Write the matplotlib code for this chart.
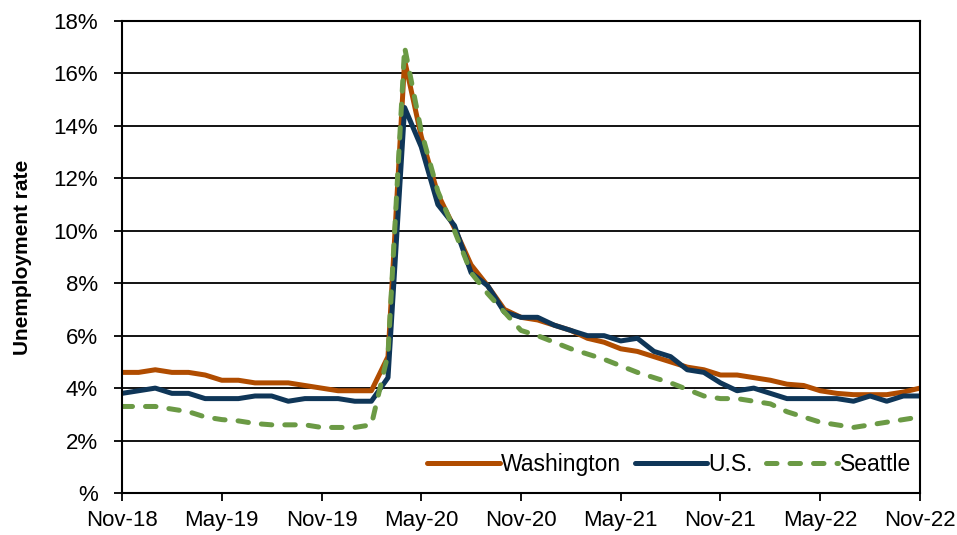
import matplotlib
matplotlib.use("Agg")
import matplotlib.pyplot as plt
from matplotlib.ticker import FuncFormatter

plt.rcParams['font.family'] = ['Liberation Sans', 'DejaVu Sans']

# monthly, Nov-18 .. Nov-22
months = list(range(49))
tick_pos = list(range(0, 49, 6))
tick_labels = ['Nov-18', 'May-19', 'Nov-19', 'May-20', 'Nov-20',
               'May-21', 'Nov-21', 'May-22', 'Nov-22']

washington = [4.6, 4.6, 4.7, 4.6, 4.6, 4.5, 4.3, 4.3, 4.2, 4.2, 4.2, 4.1,
              4.0, 3.9, 3.9, 3.9, 5.2, 16.5, 13.6, 11.4, 10.1, 8.7, 7.9, 7.0,
              6.7, 6.6, 6.4, 6.2, 5.9, 5.75, 5.5, 5.4, 5.2, 5.0, 4.8, 4.7,
              4.5, 4.5, 4.4, 4.3, 4.15, 4.1, 3.9, 3.8, 3.75, 3.75, 3.75, 3.85,
              4.0]
us = [3.8, 3.9, 4.0, 3.8, 3.8, 3.6, 3.6, 3.6, 3.7, 3.7, 3.5, 3.6,
      3.6, 3.6, 3.5, 3.5, 4.4, 14.7, 13.2, 11.0, 10.2, 8.4, 7.9, 6.9,
      6.7, 6.7, 6.4, 6.2, 6.0, 6.0, 5.8, 5.9, 5.4, 5.2, 4.7, 4.6,
      4.2, 3.9, 4.0, 3.8, 3.6, 3.6, 3.6, 3.6, 3.5, 3.7, 3.5, 3.7,
      3.7]
seattle = [3.3, 3.3, 3.3, 3.2, 3.1, 2.9, 2.8, 2.75, 2.65, 2.6, 2.6, 2.6,
           2.5, 2.5, 2.5, 2.6, 5.3, 17.0, 13.8, 11.5, 10.0, 8.4, 7.6, 6.9,
           6.2, 6.0, 5.75, 5.5, 5.3, 5.1, 4.85, 4.6, 4.4, 4.2, 3.95, 3.7,
           3.6, 3.6, 3.5, 3.4, 3.1, 2.9, 2.7, 2.6, 2.5, 2.6, 2.7, 2.8,
           2.9]

fig = plt.figure(figsize=(9.57, 5.35), dpi=100)
ax = fig.add_axes([0.1275, 0.0785, 0.9613 - 0.1275, 0.9607 - 0.0785])

ax.plot(months, washington, color='#B04C00', lw=3.6, label='Washington',
        solid_capstyle='round')
ax.plot(months, us, color='#0F3658', lw=3.6, label='U.S.',
        solid_capstyle='round')
ax.plot(months, seattle, color='#6B9A45', lw=3.6, label='Seattle',
        dashes=(2.1, 2.6), dash_capstyle='round')

ax.set_xlim(0, 48)
ax.set_ylim(0, 18)
ax.set_yticks(range(0, 19, 2))
ax.yaxis.set_major_formatter(FuncFormatter(lambda v, p: '%' if v == 0 else f'{int(v)}%'))
ax.set_xticks(tick_pos)
ax.set_xticklabels(tick_labels)

ax.grid(axis='y', color='black', lw=1.3)
ax.set_axisbelow(True)
for s in ax.spines.values():
    s.set_color('black')
    s.set_linewidth(1.5)

ax.tick_params(axis='both', direction='out', length=5.5, width=1.3,
               labelsize=16, colors='black')
ax.tick_params(axis='y', pad=12)
ax.tick_params(axis='x', pad=7)

ax.set_ylabel('Unemployment rate', fontsize=15, fontweight='bold', labelpad=15)

ax.legend(loc='center right', bbox_to_anchor=(1.0, 0.06), ncol=3,
          frameon=False, fontsize=16.5, handlelength=3.15, handletextpad=0.05,
          columnspacing=0.6, borderaxespad=0.0)

fig.savefig('out.png', dpi=100)
